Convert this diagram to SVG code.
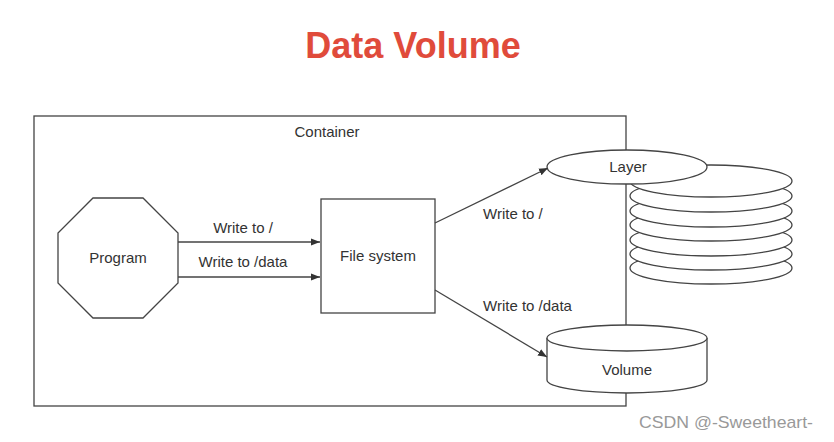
<svg xmlns="http://www.w3.org/2000/svg" width="834" height="442" viewBox="0 0 834 442">
  <style>
    .shape { fill: #fff; stroke: #444; stroke-width: 1.3; }
    .edge { fill: none; stroke: #444; stroke-width: 1.3; }
    .lbl { font-family: "Liberation Sans", Arial, sans-serif; font-size: 15px; fill: #333; }
    .mid { text-anchor: middle; }
  </style>
  <defs>
    <marker id="arrow" viewBox="0 0 10 10" refX="10" refY="5" markerWidth="9" markerHeight="9" markerUnits="userSpaceOnUse" orient="auto">
      <path d="M0,1 L10,5 L0,9 z" fill="#333"/>
    </marker>
  </defs>

  <rect width="834" height="442" fill="#fff"/>

  <text x="413" y="58" text-anchor="middle" font-family="Liberation Sans, Arial, sans-serif" font-weight="bold" font-size="36" fill="#e04b3b">Data Volume</text>

  <g id="container">
    <rect x="34" y="116" width="592" height="290" class="shape"/>
    <text x="327" y="137" class="lbl mid">Container</text>
  </g>

  <g id="program">
    <polygon points="93,198 143,198 178,233 178,283 143,318 93,318 58,283 58,233" class="shape"/>
    <text x="118" y="263" class="lbl mid">Program</text>
  </g>

  <g id="filesystem">
    <rect x="321" y="199" width="114" height="114" class="shape"/>
    <text x="378" y="261" class="lbl mid">File system</text>
  </g>

  <!-- stacked image layers, drawn bottom-up so each covers the one below -->
  <g id="layer-stack">
    <ellipse cx="711" cy="268" rx="81" ry="16" class="shape"/>
    <ellipse cx="711" cy="254" rx="81" ry="16" class="shape"/>
    <ellipse cx="711" cy="240" rx="81" ry="16" class="shape"/>
    <ellipse cx="711" cy="225" rx="81" ry="16" class="shape"/>
    <ellipse cx="711" cy="211" rx="81" ry="16" class="shape"/>
    <ellipse cx="711" cy="196" rx="81" ry="16" class="shape"/>
    <ellipse cx="711" cy="181" rx="81" ry="16" class="shape"/>
  </g>

  <g id="layer">
    <ellipse cx="627" cy="167" rx="80" ry="17" class="shape"/>
    <text x="628" y="172" class="lbl mid">Layer</text>
  </g>

  <g id="volume">
    <path d="M547,338 L547,380 A80,13 0 0 0 707,380 L707,338" class="shape"/>
    <ellipse cx="627" cy="338" rx="80" ry="13" class="shape"/>
    <text x="627" y="375" class="lbl mid">Volume</text>
  </g>

  <g id="connectors">
    <line x1="178" y1="242" x2="320" y2="242" class="edge" marker-end="url(#arrow)"/>
    <line x1="178" y1="277" x2="320" y2="277" class="edge" marker-end="url(#arrow)"/>
    <line x1="435" y1="223" x2="548" y2="168" class="edge" marker-end="url(#arrow)"/>
    <line x1="435" y1="290" x2="547" y2="357" class="edge" marker-end="url(#arrow)"/>
    <text x="243" y="233" class="lbl mid">Write to /</text>
    <text x="243" y="267" class="lbl mid">Write to /data</text>
    <text x="483" y="219" class="lbl">Write to /</text>
    <text x="483" y="311" class="lbl">Write to /data</text>
  </g>

  <text x="639" y="428" font-family="Liberation Sans, Arial, sans-serif" font-size="17" textLength="174" lengthAdjust="spacingAndGlyphs" fill="#999">CSDN @-Sweetheart-</text>
</svg>
